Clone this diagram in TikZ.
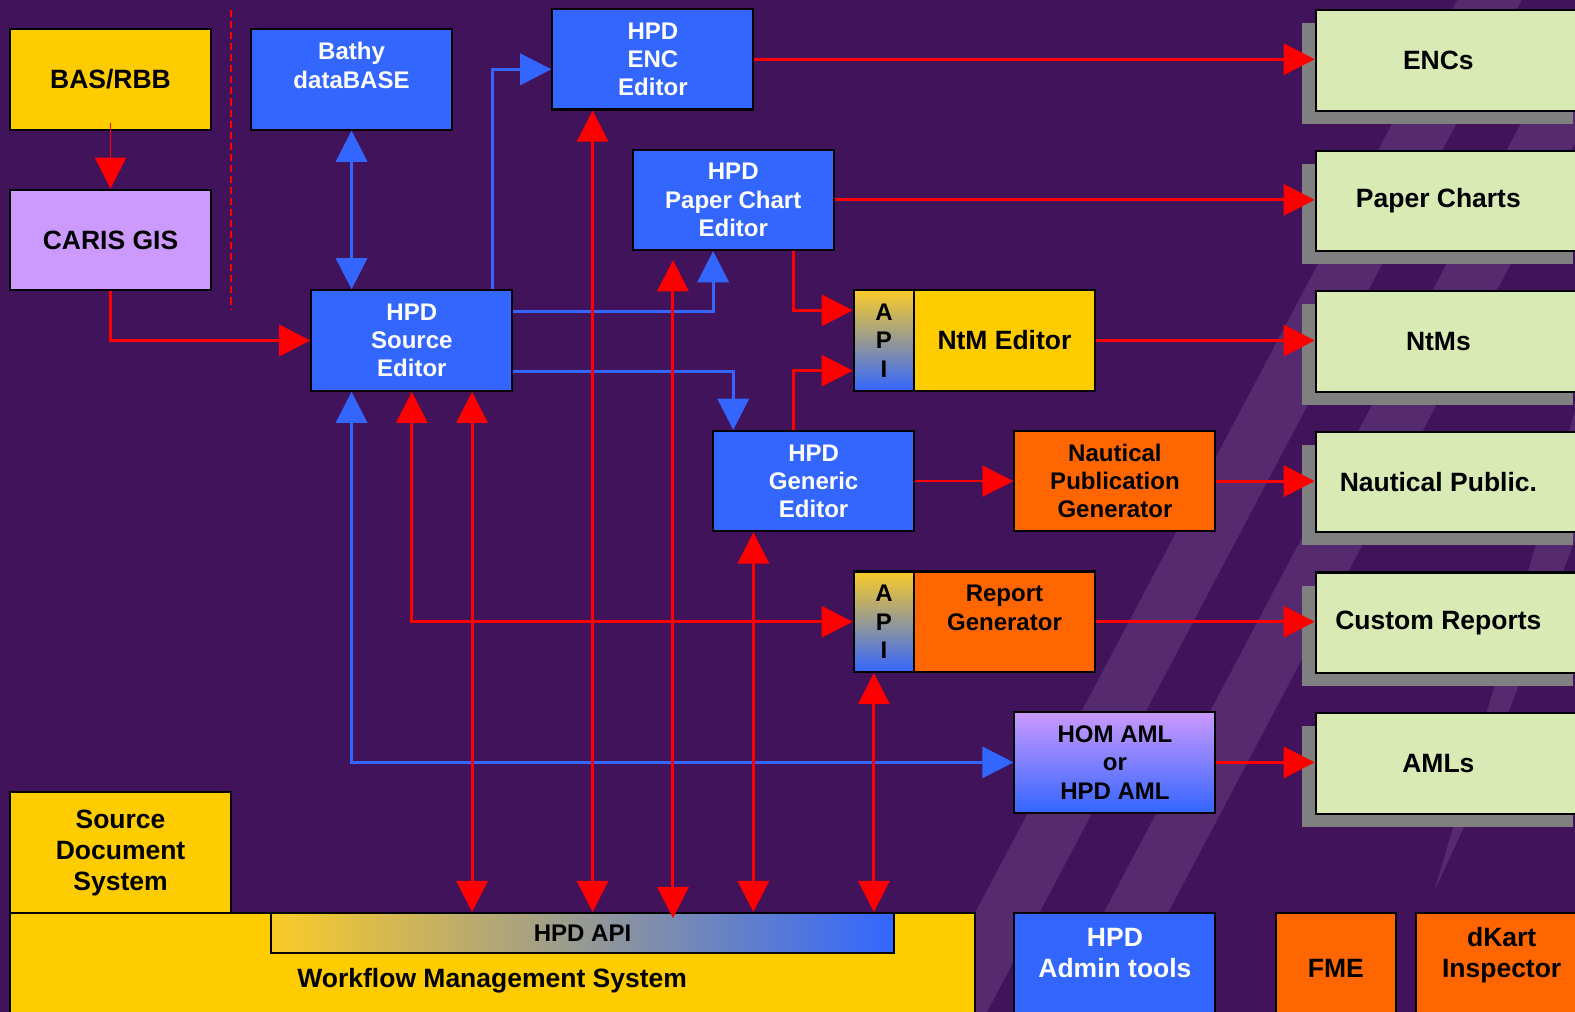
\documentclass[tikz,border=0pt]{standalone}
\usepackage{fontspec}
\setmainfont{Liberation Sans}
\usetikzlibrary{arrows.meta,shadows}

\definecolor{bgpurple}{RGB}{64,19,90}
\definecolor{stripe}{RGB}{85,42,110}
\definecolor{hpdblue}{RGB}{51,102,255}
\definecolor{gold}{RGB}{255,204,0}
\definecolor{lilac}{RGB}{204,153,255}
\definecolor{genorange}{RGB}{255,102,0}
\definecolor{outgreen}{RGB}{217,234,180}
\definecolor{shadowgray}{RGB}{128,128,128}
\definecolor{apiyellow}{RGB}{250,204,40}
\definecolor{apimid}{RGB}{195,170,175}

\tikzset{
  box/.style={draw=black, line width=0.02cm, inner sep=0pt, align=center,
    minimum width=2cm, minimum height=1cm,
    font=\bfseries\fontsize{6.8}{8}\selectfont},
  big/.style={font=\bfseries\fontsize{7.5}{8.8}\selectfont},
  hpd/.style={box, fill=hpdblue, text=white},
  yellowbox/.style={box, big, fill=gold},
  lilacbox/.style={box, big, fill=lilac},
  genbox/.style={box, fill=genorange},
  apibox/.style={box, minimum width=0.6cm, top color=apiyellow,
    middle color=apimid, bottom color=hpdblue},
  outbox/.style={box, big, fill=outgreen, minimum width=2.7cm,
    execute at end node={\hspace*{0.26cm}},
    drop shadow={shadow xshift=-0.14cm, shadow yshift=-0.13cm,
      fill=shadowgray, opacity=1}},
  redline/.style={draw=red, line width=0.03cm},
  thinred/.style={draw=red, line width=0.015cm},
  blueline/.style={draw=hpdblue, line width=0.03cm}
}

\begin{document}
\begin{tikzpicture}[x=0.01cm, y=-0.01cm, >={Triangle[length=3.1mm,width=3.1mm]}]
\useasboundingbox (0,0) rectangle (1568,1007);
\fill[bgpurple] (-10,-10) rectangle (1580,1020);
% background stripes
\fill[stripe] (912,1020) -- (976,1020) -- (1515,0) -- (1451,0) -- cycle;
\fill[stripe] (1040,1020) -- (1104,1020) -- (1643,0) -- (1579,0) -- cycle;
\fill[stripe] (1428,887) -- (1458,822) -- (1660,300) -- (1600,300) -- cycle;
\draw[red, line width=0.02cm, dash pattern=on 0.07cm off 0.04cm] (230,10) -- (230,308);

% sources and editors
\node[yellowbox] (bas) at (110,79) {BAS/RBB};
\node[lilacbox] (caris) at (110,239) {CARIS GIS};
\node[hpd] (bathy) at (350,79) {Bathy\\dataBASE\\\mbox{}};
\node[hpd] (source) at (410,339) {HPD\\Source\\Editor};
\node[hpd] (enc) at (650,59) {HPD\\ENC\\Editor};
\node[hpd] (paper) at (730,199) {HPD\\Paper Chart\\Editor};
\node[hpd] (generic) at (810,479) {HPD\\Generic\\Editor};
\node[apibox] (ntmapi) at (880,339) {A\\P\\I};
\node[yellowbox, minimum width=1.8cm] (ntm) at (1000,339) {NtM Editor};
\node[genbox] (nautgen) at (1110,479) {Nautical\\Publication\\Generator};
\node[apibox] (repapi) at (880,619) {A\\P\\I};
\node[genbox, minimum width=1.8cm] (report) at (1000,619) {Report\\Generator\\\mbox{}};
\node[box, top color=lilac, bottom color=hpdblue] (homaml) at (1110,759) {HOM AML\\or\\HPD AML};

% products
\node[outbox] (encs) at (1445,60) {ENCs};
\node[outbox] (charts) at (1445,200) {Paper Charts};
\node[outbox] (ntms) at (1445,340) {NtMs};
\node[outbox] (naupub) at (1445,480) {Nautical Public.};
\node[outbox] (reports) at (1445,620) {Custom Reports};
\node[outbox] (amls) at (1445,760) {AMLs};

% bottom row
\node[yellowbox, minimum width=2.2cm, minimum height=1.2cm] (srcdoc) at (120,849) {Source\\Document\\System};
\node[yellowbox, minimum width=9.6cm, minimum height=1.34cm] (wms) at (490,976) {Workflow Management System};
\node[box, left color=apiyellow, middle color=apimid, right color=hpdblue,
  minimum width=6.2cm, minimum height=0.4cm] (hpdapi) at (580,929) {HPD API};
\node[hpd, big, minimum height=1.1cm] (admin) at (1110,964) {HPD\\Admin tools\\\mbox{}};
\node[genbox, big, minimum width=1.2cm, minimum height=1.1cm] (fme) at (1330,964) {FME};
\node[genbox, big, minimum width=1.7cm, minimum height=1.1cm] (dkart) at (1495,964) {dKart\\Inspector\\\mbox{}};

% blue links
\draw[blueline,<->] (bathy.south) -- (bathy.south |- source.north);
\draw[blueline,->] (490,0 |- source.north) |- ([yshift=-0.1cm]enc.west);
\draw[blueline,->] ([yshift=0.29cm]source.east) -| (710,0 |- paper.south);
\draw[blueline,->] ([yshift=-0.31cm]source.east) -| (730,0 |- generic.north);
\draw[blueline,<->] (350,0 |- source.south) |- (homaml.west);

% red links
\draw[thinred,->] ([yshift=0.08cm]bas.south) -- (caris);
\draw[redline,->] (caris.south) |- (source.west);
\draw[redline,<->] (410,0 |- source.south) |- (repapi.west);
\draw[redline,<->] (470,0 |- source.south) -- (470,0 |- hpdapi.north);
\draw[redline,<->] (590,0 |- enc.south) -- (590,0 |- hpdapi.north);
\draw[redline,<->] ([yshift=-0.09cm]670,0 |- paper.south) -- ([yshift=-0.06cm]670,0 |- hpdapi.north);
\draw[redline,<->] (750,0 |- generic.south) -- (750,0 |- hpdapi.north);
\draw[redline,<->] (870,0 |- repapi.south) -- (870,0 |- hpdapi.north);
\draw[redline,->] (790,0 |- paper.south) |- ([yshift=0.3cm]ntmapi.west);
\draw[redline,->] (790,0 |- generic.north) |- ([yshift=-0.3cm]ntmapi.west);
\draw[thinred,->] (generic) -- (nautgen);

% to products
\draw[redline,->] (enc.east) -- (enc.east -| encs.west);
\draw[redline,->] (paper.east) -- (paper.east -| charts.west);
\draw[redline,->] (ntm.east) -- (ntm.east -| ntms.west);
\draw[redline,->] (nautgen.east) -- (nautgen.east -| naupub.west);
\draw[redline,->] (report.east) -- (report.east -| reports.west);
\draw[redline,->] (homaml.east) -- (homaml.east -| amls.west);
\end{tikzpicture}
\end{document}
